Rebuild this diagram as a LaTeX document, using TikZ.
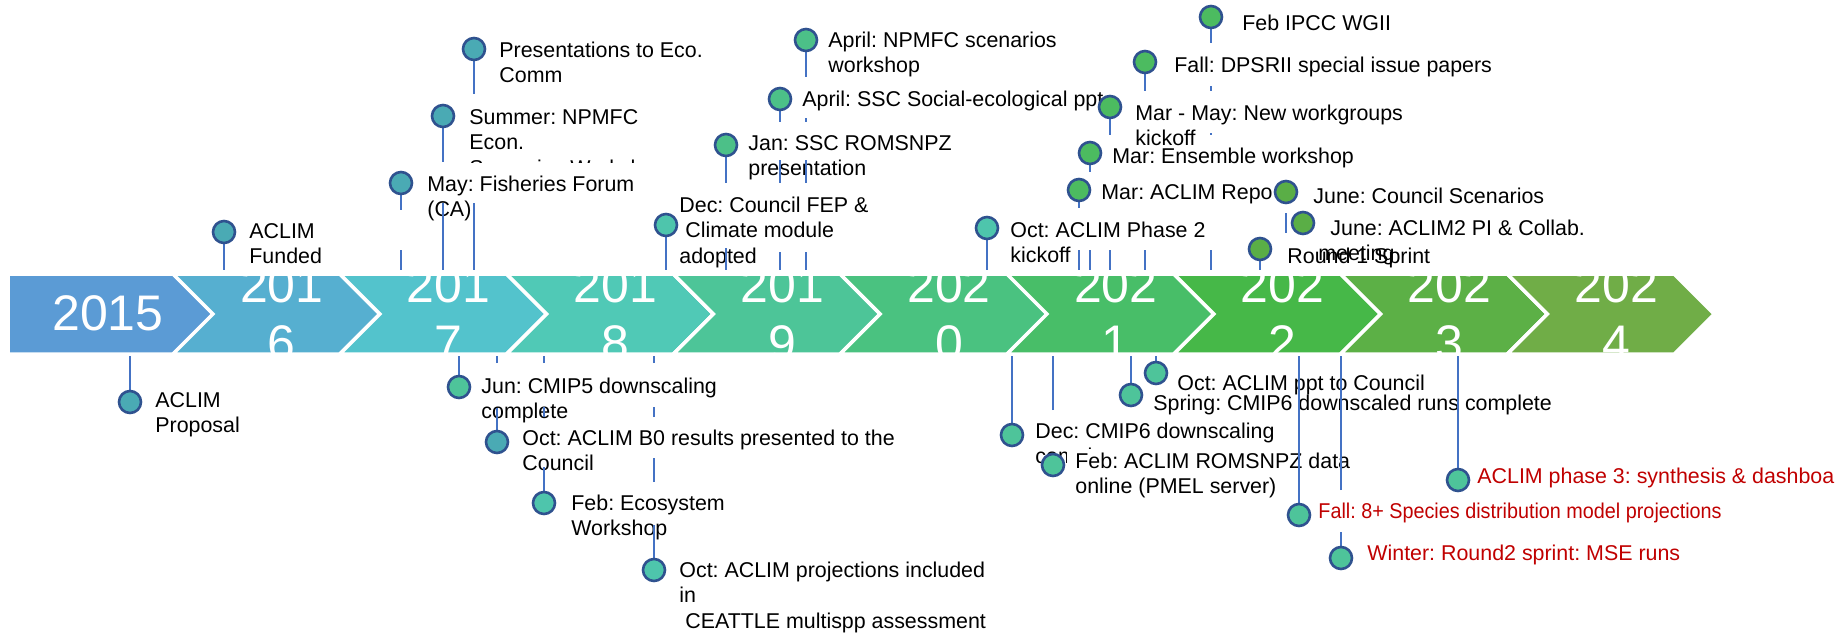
\documentclass[tikz,border=0pt]{standalone}
\usepackage{fontspec}
\setmainfont{Liberation Sans}
\frenchspacing
\definecolor{pinline}{RGB}{47,82,143}
\definecolor{stemblue}{RGB}{68,114,196}
\definecolor{eventred}{RGB}{192,0,0}
\definecolor{pinteal}{RGB}{74,170,180}
\definecolor{pinaqua}{RGB}{78,197,172}
\definecolor{pinsea}{RGB}{78,196,154}
\definecolor{pinmint}{RGB}{76,192,136}
\definecolor{pingreen}{RGB}{76,187,96}
\definecolor{pinolive}{RGB}{90,174,70}
\definecolor{yr15}{RGB}{91,155,213}
\definecolor{yr16}{RGB}{86,175,208}
\definecolor{yr17}{RGB}{83,195,204}
\definecolor{yr18}{RGB}{80,201,182}
\definecolor{yr19}{RGB}{77,197,152}
\definecolor{yr20}{RGB}{74,194,128}
\definecolor{yr21}{RGB}{72,190,104}
\definecolor{yr22}{RGB}{70,184,72}
\definecolor{yr23}{RGB}{92,176,70}
\definecolor{yr24}{RGB}{112,173,71}
\pgfdeclarelayer{pins}
\pgfsetlayers{main,pins}
\begin{document}
\begin{tikzpicture}[
        x=0.5pt, y=-0.5pt,
        every node/.style={font=\fontsize{10.7}{12.75}\selectfont, inner sep=0pt},
        yearbox/.style={draw=white, line width=1.75pt},
        yeartext/.style={text=white, align=center, anchor=base,
            font=\fontsize{25}{29}\selectfont},
        event/.style={anchor=base west, align=left},
        future/.style={anchor=base west, align=left, text=eventred},
        pin/.style={circle, minimum size=11pt, line width=1.3pt, draw=pinline},
        stem/.style={line width=1pt, draw=stemblue}
      ]
      \useasboundingbox (0,0) rectangle (1835,633);
      \coordinate (bandtop) at (0,270);
      \coordinate (bandbot) at (0,356);
      \filldraw[yearbox, fill=yr15] (8,274) -- (173,274) -- (213,314) -- (173,354) -- (8,354) -- cycle;
      \filldraw[yearbox, fill=yr16] (173,274) -- (339.8,274) -- (379.8,314) -- (339.8,354) -- (173,354) -- (213,314) -- cycle;
      \filldraw[yearbox, fill=yr17] (339.8,274) -- (506.6,274) -- (546.6,314) -- (506.6,354) -- (339.8,354) -- (379.8,314) -- cycle;
      \filldraw[yearbox, fill=yr18] (506.6,274) -- (673.4,274) -- (713.4,314) -- (673.4,354) -- (506.6,354) -- (546.6,314) -- cycle;
      \filldraw[yearbox, fill=yr19] (673.4,274) -- (840.2,274) -- (880.2,314) -- (840.2,354) -- (673.4,354) -- (713.4,314) -- cycle;
      \filldraw[yearbox, fill=yr20] (840.2,274) -- (1007,274) -- (1047,314) -- (1007,354) -- (840.2,354) -- (880.2,314) -- cycle;
      \filldraw[yearbox, fill=yr21] (1007,274) -- (1173.8,274) -- (1213.8,314) -- (1173.8,354) -- (1007,354) -- (1047,314) -- cycle;
      \filldraw[yearbox, fill=yr22] (1173.8,274) -- (1340.6,274) -- (1380.6,314) -- (1340.6,354) -- (1173.8,354) -- (1213.8,314) -- cycle;
      \filldraw[yearbox, fill=yr23] (1340.6,274) -- (1507.4,274) -- (1547.4,314) -- (1507.4,354) -- (1340.6,354) -- (1380.6,314) -- cycle;
      \filldraw[yearbox, fill=yr24] (1507.4,274) -- (1674.2,274) -- (1714.2,314) -- (1674.2,354) -- (1507.4,354) -- (1547.4,314) -- cycle;
      \begin{scope}
        \clip (8,275) rectangle (1716,353);
        \node[yeartext] (y15) at (108,330) {2015};
        \node[yeartext] (y16) at (281.8,360) {201\\6};
        \node[yeartext] (y17) at (448.6,360) {201\\7};
        \node[yeartext] (y18) at (615.4,360) {201\\8};
        \node[yeartext] (y19) at (782.2,360) {201\\9};
        \node[yeartext] (y20) at (949,360) {202\\0};
        \node[yeartext] (y21) at (1115.8,360) {202\\1};
        \node[yeartext] (y22) at (1282.6,360) {202\\2};
        \node[yeartext] (y23) at (1449.4,360) {202\\3};
        \node[yeartext] (y24) at (1616.2,360) {202\\4};
      \end{scope}
      \node[event] (lfund) at (249,263.5) {ACLIM\\Funded};
      \begin{scope}
        \clip (460,0) rectangle (720,162);
        \node[event] (lsummer) at (469,175) {Summer: NPMFC\\Econ.\\Scenarios Workshop};
      \end{scope}
      \node[event] (lmay) at (427,216.5) {May: Fisheries Forum\\(CA)};
      \node[event] (lpres) at (499,82.5) {Presentations to Eco.\\Comm};
      \node[event] (ldec) at (679,263) {Dec: Council FEP \&\\\hspace*{3pt}Climate module\\adopted};
      \node[event] (ljan) at (748,175.5) {Jan: SSC ROMSNPZ\\presentation};
      \node[event] (laprssc) at (802,106) {April: SSC Social-ecological ppt};
      \node[event] (laprnp) at (828,72.5) {April: NPMFC scenarios\\workshop};
      \node[event] (loctp) at (1010,262.5) {Oct: ACLIM Phase 2\\kickoff};
      \node[event] (lmarrep) at (1101,199) {Mar: ACLIM Repo};
      \node[event] (lmarens) at (1112,163) {Mar: Ensemble workshop};
      \node[event] (lmarmay) at (1135,145.5) {Mar - May: New workgroups\\kickoff};
      \node[event] (lfall) at (1174,72) {Fall: DPSRII special issue papers};
      \node[event] (lipcc) at (1242,30) {Feb IPCC WGII};
      \node[event] (ljunc) at (1313,203) {June: Council Scenarios};
      \node[event] (lround) at (1287,263) {Round 1 Sprint};
      \node[event] (ljunp) at (1318,260.5) {\hspace*{6pt}June: ACLIM2 PI \& Collab.\\meeting};
      \node[event] (lprop) at (155,432.5) {ACLIM\\Proposal};
      \node[event] (ljun) at (481,418.5) {Jun: CMIP5 downscaling\\complete};
      \node[event] (loctb) at (522,470.5) {Oct: ACLIM B0 results presented to the\\Council};
      \node[event] (lfebeco) at (571,535.5) {Feb: Ecosystem\\Workshop};
      \node[event] (loctproj) at (679,628) {Oct: ACLIM projections included\\in\\\hspace*{3pt}CEATTLE multispp assessment};
      \node[event] (ldecc) at (1035,463.5) {Dec: CMIP6 downscaling\\complete};
      \node[event, fill=white, inner xsep=4pt, inner ysep=2pt] (lfebrom) at (1067,493.5) {Feb: ACLIM ROMSNPZ data\\online (PMEL server)};
      \node[event] (lspring) at (1153,410) {Spring: CMIP6 downscaled runs complete};
      \node[event] (loctppt) at (1177,390) {Oct: ACLIM ppt to Council};
      \node[future] (lsdm) at (1318,518) {\scalebox{0.925}[1]{Fall: 8+ Species distribution model projections}};
      \node[future] (lwinter) at (1367,560) {Winter: Round2 sprint: MSE runs};
      \node[future] (lphase) at (1477,483) {ACLIM phase 3: synthesis \& dashboa};
      \begin{pgfonlayer}{pins}
        \node[pin, fill=pinteal] (fund) at (224,232) {};
        \node[pin, fill=pinteal] (may) at (401,183) {};
        \node[pin, fill=pinteal] (summer) at (443,116) {};
        \node[pin, fill=pinteal] (pres) at (474,49) {};
        \node[pin, fill=pinaqua] (dec) at (666,225) {};
        \node[pin, fill=pinmint] (jan) at (726,145) {};
        \node[pin, fill=pinmint] (aprssc) at (780,99) {};
        \node[pin, fill=pinmint] (aprnp) at (806,40) {};
        \node[pin, fill=pinaqua] (octp) at (987,228) {};
        \node[pin, fill=pingreen] (marrep) at (1079,190) {};
        \node[pin, fill=pingreen] (marens) at (1090,153) {};
        \node[pin, fill=pingreen] (marmay) at (1110,107) {};
        \node[pin, fill=pingreen] (fall) at (1145,62) {};
        \node[pin, fill=pingreen] (ipcc) at (1211,17) {};
        \node[pin, fill=pinolive] (junc) at (1286,192) {};
        \node[pin, fill=pinolive] (junp) at (1303,223) {};
        \node[pin, fill=pinolive] (round) at (1260,249) {};
        \node[pin, fill=pinteal] (prop) at (130,402) {};
        \node[pin, fill=pinsea] (jun) at (459,387) {};
        \node[pin, fill=pinteal] (octb) at (497,442) {};
        \node[pin, fill=pinaqua] (febeco) at (544,503) {};
        \node[pin, fill=pinaqua] (octproj) at (654,570) {};
        \node[pin, fill=pinsea] (decc) at (1012,435) {};
        \node[pin, fill=pinsea] (febrom) at (1053,465) {};
        \node[pin, fill=pinsea] (spring) at (1131,395) {};
        \node[pin, fill=pinsea] (octppt) at (1156,373) {};
        \node[pin, fill=pinsea] (sdm) at (1299,515) {};
        \node[pin, fill=pinsea] (winter) at (1341,558) {};
        \node[pin, fill=pinsea] (phase) at (1458,480) {};
      \end{pgfonlayer}
      \draw[stem] (fund.center) -- (fund.center |- bandtop);
      \draw[stem, dash pattern=on 13.5pt off 20pt on 10pt] (may.center) -- (may.center |- bandtop);
      \draw[stem, dash pattern=on 23pt off 20.5pt on 33.5pt] (summer.center) -- (summer.center |- bandtop);
      \draw[stem, dash pattern=on 22.5pt off 54.5pt on 33.5pt] (pres.center) -- (pres.center |- bandtop);
      \draw[stem] (dec.center) -- (dec.center |- bandtop);
      \draw[stem, dash pattern=on 19pt off 32.5pt on 11pt] (jan.center) -- (jan.center |- bandtop);
      \draw[stem, dash pattern=on 11.5pt off 19pt on 11.5pt off 34.5pt on 9pt] (aprssc.center) -- (aprssc.center |- bandtop);
      \draw[stem, dash pattern=on 18.5pt off 20.5pt on 2pt off 19pt on 11.5pt off 34.5pt on 9pt] (aprnp.center) -- (aprnp.center |- bandtop);
      \draw[stem] (octp.center) -- (octp.center |- bandtop);
      \draw[stem, dash pattern=on 9pt off 21pt on 10pt] (marrep.center) -- (marrep.center |- bandtop);
      \draw[stem, dash pattern=on 9.5pt off 39pt on 10pt] (marens.center) -- (marens.center |- bandtop);
      \draw[stem, dash pattern=on 14pt off 57.5pt on 10pt] (marmay.center) -- (marmay.center |- bandtop);
      \draw[stem, dash pattern=on 14.5pt off 79.5pt on 10pt] (fall.center) -- (fall.center |- bandtop);
      \draw[stem, dash pattern=on 13pt off 21.5pt on 2.5pt off 21pt on 1pt off 57.5pt on 10pt] (ipcc.center) -- (ipcc.center |- bandtop);
      \draw[stem, dash pattern=on 6pt off 4.5pt on 10pt] (junc.center) -- ++(0,41);
      \draw[stem] (round.center) -- (round.center |- bandtop);
      \draw[stem] (prop.center) -- (prop.center |- bandbot);
      \draw[stem] (jun.center) -- (jun.center |- bandbot);
      \draw[stem, dash pattern=on 17pt off 22.5pt on 3.5pt] (octb.center) -- (octb.center |- bandbot);
      \draw[stem, dash pattern=on 18pt off 25pt on 5pt off 22pt on 3.5pt] (febeco.center) -- (febeco.center |- bandbot);
      \draw[stem, dash pattern=on 22.5pt off 21.5pt on 12pt off 20.5pt on 5pt off 22pt on 3.5pt] (octproj.center) -- (octproj.center |- bandbot);
      \draw[stem] (decc.center) -- (decc.center |- bandbot);
      \draw[stem, dash pattern=on 6pt off 21.5pt on 27pt] (febrom.center) -- (febrom.center |- bandbot);
      \draw[stem] (spring.center) -- (spring.center |- bandbot);
      \draw[stem] (octppt.center) -- (octppt.center |- bandbot);
      \draw[stem] (sdm.center) -- (sdm.center |- bandbot);
      \draw[stem, dash pattern=on 13pt off 21pt on 68pt] (winter.center) -- (winter.center |- bandbot);
      \draw[stem] (phase.center) -- (phase.center |- bandbot);
    \end{tikzpicture}
\end{document}
